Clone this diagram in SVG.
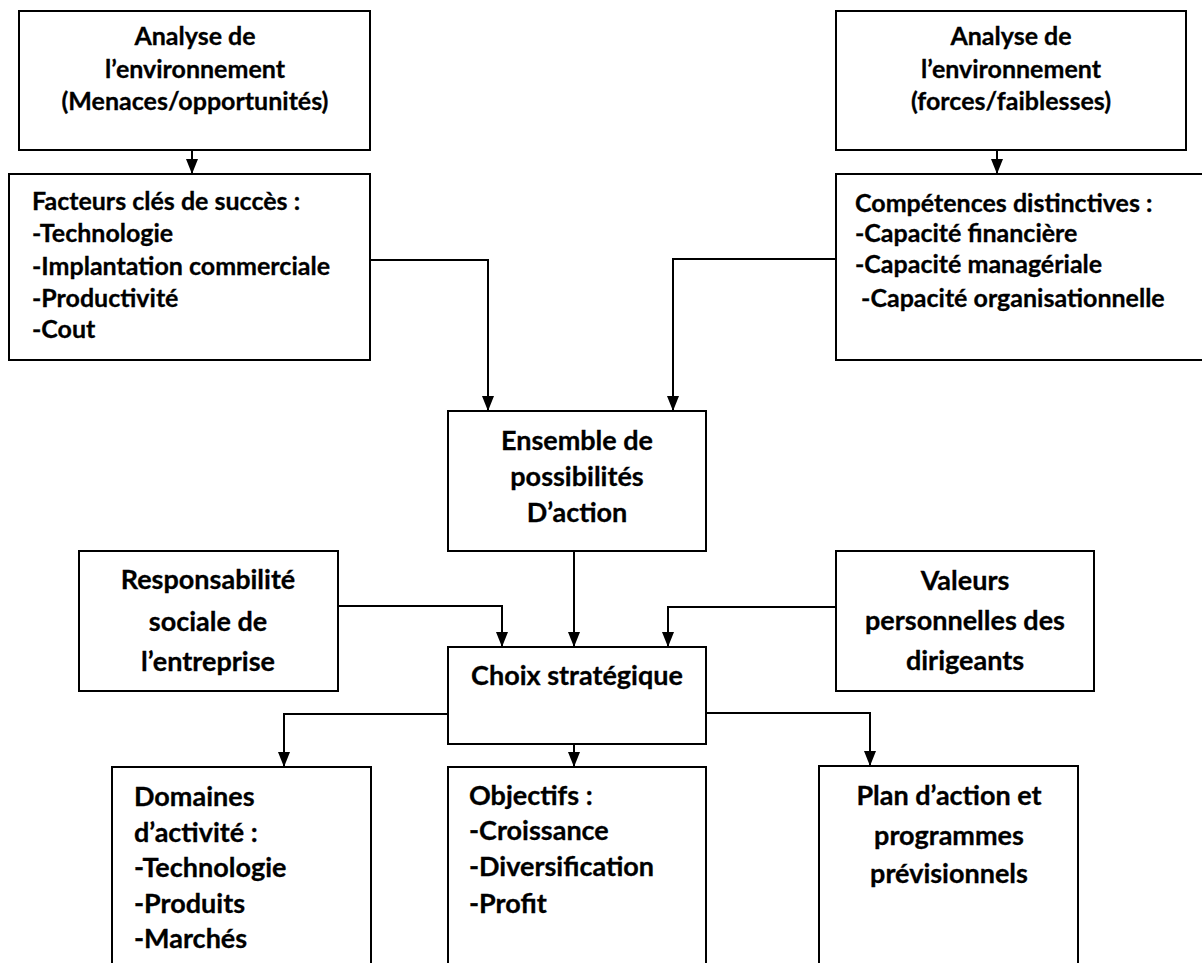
<svg xmlns="http://www.w3.org/2000/svg" width="1202" height="963" viewBox="0 0 1202 963">
<defs>
<marker id="ah" markerUnits="userSpaceOnUse" markerWidth="15" markerHeight="12" viewBox="0 0 15 12" refX="15" refY="6" orient="auto">
<path d="M0,0 L15,6 L0,12 Z" fill="#000"/>
</marker>
<style>
rect{fill:#fff;stroke:#000;stroke-width:2}
text{font-family:"Lato","Carlito","Liberation Sans",sans-serif;font-weight:bold;font-size:25px;fill:#000;stroke:#000;stroke-width:0.3}
.l{font-size:27px}
.c{text-anchor:middle}
#connectors path{fill:none;stroke:#000;stroke-width:2}
</style>
</defs>
<rect x="0" y="0" width="1202" height="963" style="fill:#fff;stroke:none"/>
<g id="connectors">
<path d="M192,150 V174" marker-end="url(#ah)"/>
<path d="M997,150 V174" marker-end="url(#ah)"/>
<path d="M370,260 H488 V411" marker-end="url(#ah)"/>
<path d="M836,259 H673 V411" marker-end="url(#ah)"/>
<path d="M574,551 V647" marker-end="url(#ah)"/>
<path d="M338,606 H502 V647" marker-end="url(#ah)"/>
<path d="M836,607 H668 V647" marker-end="url(#ah)"/>
<path d="M448,714 H284 V767" marker-end="url(#ah)"/>
<path d="M574,744 V767" marker-end="url(#ah)"/>
<path d="M706,713 H870 V766" marker-end="url(#ah)"/>
</g>
<g id="env-menaces">
<rect x="19" y="11" width="351" height="139"/>
<text class="c" x="195" y="45">Analyse de</text>
<text class="c" x="195" y="78">l’environnement</text>
<text class="c" x="195" y="110">(Menaces/opportunités)</text>
</g>
<g id="facteurs">
<rect x="9" y="174" width="361" height="186"/>
<text x="32" y="210">Facteurs clés de succès :</text>
<text x="32" y="242">-Technologie</text>
<text x="32" y="275">-Implantation commerciale</text>
<text x="32" y="307">-Productivité</text>
<text x="32" y="338">-Cout</text>
</g>
<g id="env-forces">
<rect x="836" y="11" width="350" height="139"/>
<text class="c" x="1011" y="45">Analyse de</text>
<text class="c" x="1011" y="78">l’environnement</text>
<text class="c" x="1011" y="110">(forces/faiblesses)</text>
</g>
<g id="competences">
<rect x="836" y="174" width="380" height="186"/>
<text x="855" y="212">Compétences distinctives :</text>
<text x="855" y="242">-Capacité financière</text>
<text x="855" y="273">-Capacité managériale</text>
<text x="855" y="307" xml:space="preserve"> -Capacité organisationnelle</text>
</g>
<g id="ensemble">
<rect x="448" y="411" width="258" height="140"/>
<text class="c l" x="577" y="450">Ensemble de</text>
<text class="c l" x="577" y="486">possibilités</text>
<text class="c l" x="577" y="522">D’action</text>
</g>
<g id="responsabilite">
<rect x="79" y="551" width="259" height="140"/>
<text class="c l" x="208" y="589">Responsabilité</text>
<text class="c l" x="208" y="631">sociale de</text>
<text class="c l" x="208" y="671">l’entreprise</text>
</g>
<g id="valeurs">
<rect x="836" y="551" width="258" height="140"/>
<text class="c l" x="965" y="590">Valeurs</text>
<text class="c l" x="965" y="630">personnelles des</text>
<text class="c l" x="965" y="670">dirigeants</text>
</g>
<g id="choix">
<rect x="448" y="647" width="258" height="97"/>
<text class="c l" x="577" y="685">Choix stratégique</text>
</g>
<g id="domaines">
<rect x="112" y="767" width="259" height="220"/>
<text class="l" x="134" y="806">Domaines</text>
<text class="l" x="134" y="842">d’activité :</text>
<text class="l" x="134" y="877">-Technologie</text>
<text class="l" x="134" y="913">-Produits</text>
<text class="l" x="134" y="948">-Marchés</text>
</g>
<g id="objectifs">
<rect x="448" y="767" width="258" height="220"/>
<text class="l" x="469" y="805">Objectifs :</text>
<text class="l" x="469" y="840">-Croissance</text>
<text class="l" x="469" y="876">-Diversification</text>
<text class="l" x="469" y="913">-Profit</text>
</g>
<g id="plan">
<rect x="819" y="766" width="259" height="220"/>
<text class="c l" x="949" y="805">Plan d’action et</text>
<text class="c l" x="949" y="845">programmes</text>
<text class="c l" x="949" y="883">prévisionnels</text>
</g>
</svg>
